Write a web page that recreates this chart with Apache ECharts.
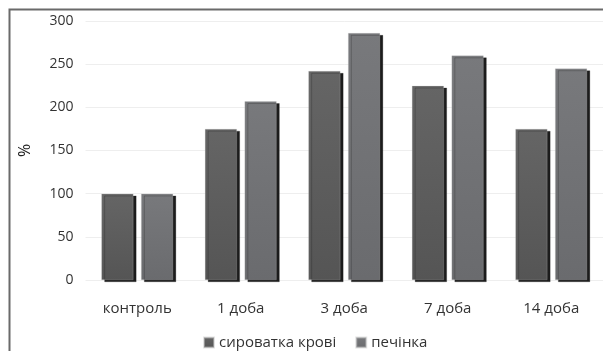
<!DOCTYPE html>
<html>
<head>
<meta charset="utf-8">
<script src="https://cdn.jsdelivr.net/npm/echarts@6/dist/echarts.min.js"></script>
<style>
  html, body { margin: 0; padding: 0; background: #fff; }
  #chart { width: 603px; height: 351px; }
</style>
</head>
<body>
<div id="chart"></div>
<script>
// Days after exposure
const categories = ['контроль', '1 доба', '3 доба', '7 доба', '14 доба'];
// Relative level, % of control
const serumValues = [100, 175, 242, 225, 175];
const liverValues = [100, 207, 286, 260, 245];
const seriesNames = ['сироватка крові', 'печінка'];
const yTicks = [0, 50, 100, 150, 200, 250, 300];

const FONT = '"Open Sans", "Noto Sans", sans-serif';

function barStyle(top, bottom) {
  return {
    color: new echarts.graphic.LinearGradient(0, 0, 0, 1, [
      { offset: 0, color: top },
      { offset: 1, color: bottom }
    ]),
    borderColor: 'rgba(200,200,200,0.5)',
    borderWidth: 0.5,
    shadowColor: '#1c1c1c',
    shadowBlur: 0,
    shadowOffsetX: 3,
    shadowOffsetY: 2
  };
}

const chart = echarts.init(document.getElementById('chart'), null, { renderer: 'canvas' });
chart.setOption({
  animation: false,
  backgroundColor: '#ffffff',
  textStyle: { fontFamily: FONT },
  graphic: [{
    type: 'rect',
    shape: { x: 9.5, y: 9.5, width: 700, height: 400 },
    style: { fill: 'none', stroke: '#6a6a6a', lineWidth: 2 },
    z: 100
  }],
  legend: {
    data: seriesNames,
    left: 198,
    top: 330,
    itemWidth: 10,
    itemHeight: 10,
    itemGap: 19,
    icon: 'rect',
    textStyle: { fontFamily: FONT, fontSize: 15, color: '#333' }
  },
  grid: { left: 85.5, top: 21, width: 525, height: 259 },
  xAxis: {
    type: 'category',
    data: categories,
    axisLine: { show: false },
    axisTick: { show: false },
    axisLabel: { fontFamily: FONT, fontSize: 15, color: '#333', margin: 21 }
  },
  yAxis: {
    type: 'value',
    min: yTicks[0],
    max: yTicks[yTicks.length - 1],
    interval: 50,
    name: '%',
    nameLocation: 'middle',
    nameRotate: 90,
    nameGap: 52,
    nameTextStyle: { fontFamily: FONT, fontSize: 16, color: '#222' },
    axisLine: { show: false },
    axisTick: { show: false },
    axisLabel: { fontFamily: FONT, fontSize: 14, color: '#333', margin: 12 },
    splitLine: { lineStyle: { color: '#eeeeee', width: 1 } }
  },
  series: [
    {
      name: seriesNames[0],
      type: 'bar',
      data: serumValues,
      barWidth: 32,
      barGap: '24%',
      itemStyle: barStyle('#656565', '#555555')
    },
    {
      name: seriesNames[1],
      type: 'bar',
      data: liverValues,
      barWidth: 32,
      itemStyle: barStyle('#78797c', '#6a6b6e')
    }
  ]
});
</script>
</body>
</html>
